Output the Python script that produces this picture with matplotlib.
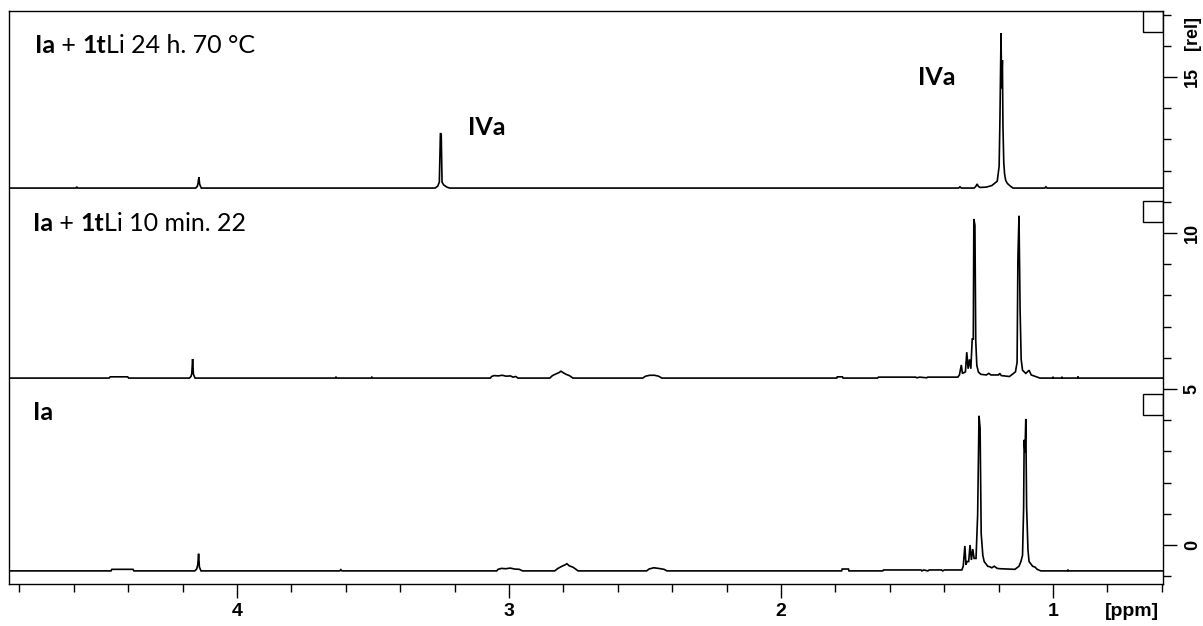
import matplotlib.pyplot as plt
from matplotlib.patches import Rectangle
from matplotlib.ticker import MultipleLocator

# (ppm, intensity [rel]) points, relative to its own baseline
trace_70c = [
    (4.84, 0), (4.592, 0), (4.589, 0.04), (4.586, 0),
    (4.152, 0), (4.146, 0.05), (4.143, 0.15), (4.140, 0.35), (4.137, 0.12), (4.131, 0),
    (3.272, 0), (3.262, 0.06), (3.256, 0.19), (3.252, 1.76), (3.249, 1.72), (3.246, 0.19),
    (3.240, 0.10), (3.228, 0.03), (3.218, 0),
    (1.347, 0), (1.342, 0.04), (1.337, 0), (1.290, 0), (1.284, 0.05), (1.279, 0.13),
    (1.274, 0.05), (1.268, 0.02), (1.245, 0.03), (1.225, 0.08), (1.205, 0.22),
    (1.198, 0.7), (1.195, 2.24), (1.191, 4.97), (1.189, 3.2), (1.186, 4.1), (1.184, 2.0),
    (1.181, 0.83), (1.178, 0.45), (1.174, 0.25), (1.168, 0.15), (1.158, 0.07), (1.147, 0),
    (1.030, 0), (1.026, 0.04), (1.022, 0), (0.596, 0),
]

trace_10min = [
    (4.84, 0), (4.470, 0), (4.466, 0.04), (4.402, 0.04), (4.398, 0),
    (4.175, 0), (4.169, 0.05), (4.166, 0.15), (4.163, 0.61), (4.160, 0.12), (4.154, 0),
    (3.639, 0), (3.636, 0.03), (3.633, 0), (3.507, 0), (3.504, 0.03), (3.501, 0),
    (3.068, 0), (3.064, 0.05), (3.055, 0.08), (3.040, 0.07), (3.025, 0.09), (3.010, 0.06),
    (2.995, 0.07), (2.985, 0.03), (2.975, 0.05), (2.967, 0),
    (2.850, 0), (2.840, 0.08), (2.828, 0.13), (2.815, 0.18), (2.809, 0.22), (2.800, 0.17),
    (2.790, 0.12), (2.778, 0.08), (2.765, 0),
    (2.508, 0), (2.498, 0.06), (2.482, 0.09), (2.465, 0.09), (2.450, 0.06), (2.438, 0),
    (1.795, 0), (1.793, 0.04), (1.774, 0.04), (1.772, 0),
    (1.645, 0), (1.642, 0.03), (1.505, 0.03), (1.500, 0.01), (1.490, 0.03), (1.465, 0.01),
    (1.460, 0.03), (1.350, 0.03),
    (1.344, 0.1), (1.337, 0.42), (1.333, 0.15), (1.322, 0.2), (1.317, 0.83), (1.312, 0.3),
    (1.307, 0.6), (1.302, 0.3), (1.297, 1.25), (1.293, 1.25), (1.291, 5.1), (1.287, 4.9),
    (1.284, 1.2), (1.280, 0.4), (1.274, 0.19), (1.265, 0.12), (1.245, 0.1), (1.236, 0.15),
    (1.228, 0.1), (1.200, 0.1), (1.196, 0.15), (1.190, 0.08), (1.160, 0.05),
    (1.138, 0.2), (1.132, 0.5), (1.129, 3.85), (1.125, 5.2), (1.121, 2.2), (1.117, 0.6),
    (1.112, 0.25), (1.100, 0.15), (1.088, 0.25), (1.080, 0.1), (1.048, 0),
    (1.002, 0), (1.000, 0.04), (0.998, 0), (0.969, 0), (0.967, 0.04), (0.965, 0),
    (0.910, 0), (0.908, 0.05), (0.906, 0), (0.596, 0),
]

trace_ia = [
    (4.84, 0), (4.463, 0), (4.460, 0.05), (4.382, 0.05), (4.379, 0),
    (4.155, 0), (4.148, 0.06), (4.144, 0.2), (4.141, 0.55), (4.138, 0.12), (4.132, 0),
    (3.622, 0), (3.618, 0.04), (3.614, 0),
    (3.045, 0), (3.040, 0.05), (3.028, 0.08), (3.012, 0.07), (2.995, 0.09), (2.980, 0.06),
    (2.962, 0.05), (2.950, 0),
    (2.832, 0), (2.820, 0.08), (2.805, 0.15), (2.792, 0.2), (2.787, 0.23), (2.778, 0.16),
    (2.765, 0.12), (2.755, 0.06), (2.746, 0),
    (2.494, 0), (2.485, 0.06), (2.468, 0.1), (2.450, 0.08), (2.430, 0.05), (2.419, 0),
    (1.777, 0), (1.775, 0.06), (1.752, 0.06), (1.750, 0),
    (1.626, 0), (1.623, 0.03), (1.485, 0.03), (1.482, 0), (1.475, 0.03), (1.460, 0),
    (1.455, 0.03), (1.410, 0.03), (1.405, 0), (1.400, 0.03), (1.335, 0.03),
    (1.330, 0.15), (1.324, 0.8), (1.320, 0.2), (1.316, 0.3), (1.310, 0.3), (1.305, 0.83),
    (1.300, 0.35), (1.295, 0.7), (1.290, 0.4), (1.283, 0.4), (1.277, 1.8), (1.272, 4.97),
    (1.268, 4.58), (1.264, 1.2), (1.258, 0.5), (1.253, 0.3), (1.240, 0.15), (1.232, 0.13),
    (1.225, 0.1), (1.216, 0.15), (1.205, 0.08), (1.195, 0.07), (1.140, 0.05),
    (1.125, 0.15), (1.118, 0.3), (1.112, 0.5), (1.108, 2.0), (1.106, 4.2), (1.103, 3.8),
    (1.100, 4.87), (1.097, 2.05), (1.092, 0.67), (1.088, 0.3), (1.075, 0.15), (1.066, 0.12),
    (1.058, 0.05), (1.045, 0),
    (0.947, 0), (0.945, 0.04), (0.943, 0), (0.596, 0),
]

traces = [trace_70c, trace_10min, trace_ia]
offsets = [11.44, 5.35, -0.83]  # where each baseline sits on the [rel] scale
x_major = [1, 2, 3, 4]
y_major = [0, 5, 10, 15]

fig = plt.figure(figsize=(12.03, 6.26), dpi=100)
ax = fig.add_axes([9 / 1203, 42 / 626, 1154 / 1203, 573 / 626])

for tr, off in zip(traces, offsets):
    xs, ys = zip(*tr)
    ax.plot(xs, [y + off for y in ys], color='black', lw=1.2, solid_joinstyle='miter')
    # little Bruker box at the right edge
    ax.add_patch(Rectangle((0.596, off + 5.0), 0.0735, 0.67, fill=False,
                           edgecolor='black', lw=1.0))

ax.set_xlim(4.838, 0.5956)
ax.set_ylim(-1.25, 17.115)

ax.set_xticks(x_major)
ax.xaxis.set_minor_locator(MultipleLocator(0.2))
ax.set_yticks(y_major)
ax.yaxis.set_minor_locator(MultipleLocator(1))
ax.yaxis.tick_right()
ax.tick_params(axis='both', which='major', length=10, width=1.0, direction='out')
ax.tick_params(axis='both', which='minor', length=6, width=1.0, direction='out')
ax.tick_params(axis='x', pad=4)
ax.tick_params(axis='y', pad=5)
for lab in ax.get_xticklabels():
    lab.set_fontfamily('Liberation Sans')
    lab.set_fontweight('bold')
    lab.set_fontsize(14)
for lab in ax.get_yticklabels():
    lab.set_fontfamily('Liberation Sans')
    lab.set_fontweight('bold')
    lab.set_fontsize(13)
    lab.set_rotation(90)
    lab.set_verticalalignment('center')
for sp in ax.spines.values():
    sp.set_linewidth(1.0)

fig.text(1132 / 1203, 1 - 612 / 626, '[ppm]', ha='center', va='center',
         fontfamily='Liberation Sans', fontweight='bold', fontsize=14)
fig.text(1193 / 1203, 1 - 33 / 626, '[rel]', ha='center', va='center', rotation=90,
         fontfamily='Liberation Sans', fontweight='bold', fontsize=13)


def chain(x, y, parts):
    # chain text pieces so bold and normal parts sit side by side
    prev = None
    for txt, weight in parts:
        kw = dict(fontfamily='Lato', fontsize=18, fontweight=weight)
        if prev is None:
            prev = fig.text(x / 1203, 1 - y / 626, txt, ha='left', va='baseline', **kw)
        else:
            prev = ax.annotate(txt, xy=(1, 0), xycoords=prev, ha='left', va='bottom', **kw)


chain(35, 53, [('Ia', 'bold'), (' + ', 'normal'), ('1t', 'bold'), ('Li 24 h. 70 °C', 'normal')])
chain(33, 231, [('Ia', 'bold'), (' + ', 'normal'), ('1t', 'bold'), ('Li 10 min. 22', 'normal')])
chain(33, 420, [('Ia', 'bold')])
fig.text(468 / 1203, 1 - 135 / 626, 'IVa', ha='left', va='baseline',
         fontfamily='Lato', fontsize=18, fontweight='bold')
fig.text(918 / 1203, 1 - 85 / 626, 'IVa', ha='left', va='baseline',
         fontfamily='Lato', fontsize=18, fontweight='bold')

fig.savefig('out.png', dpi=100)
